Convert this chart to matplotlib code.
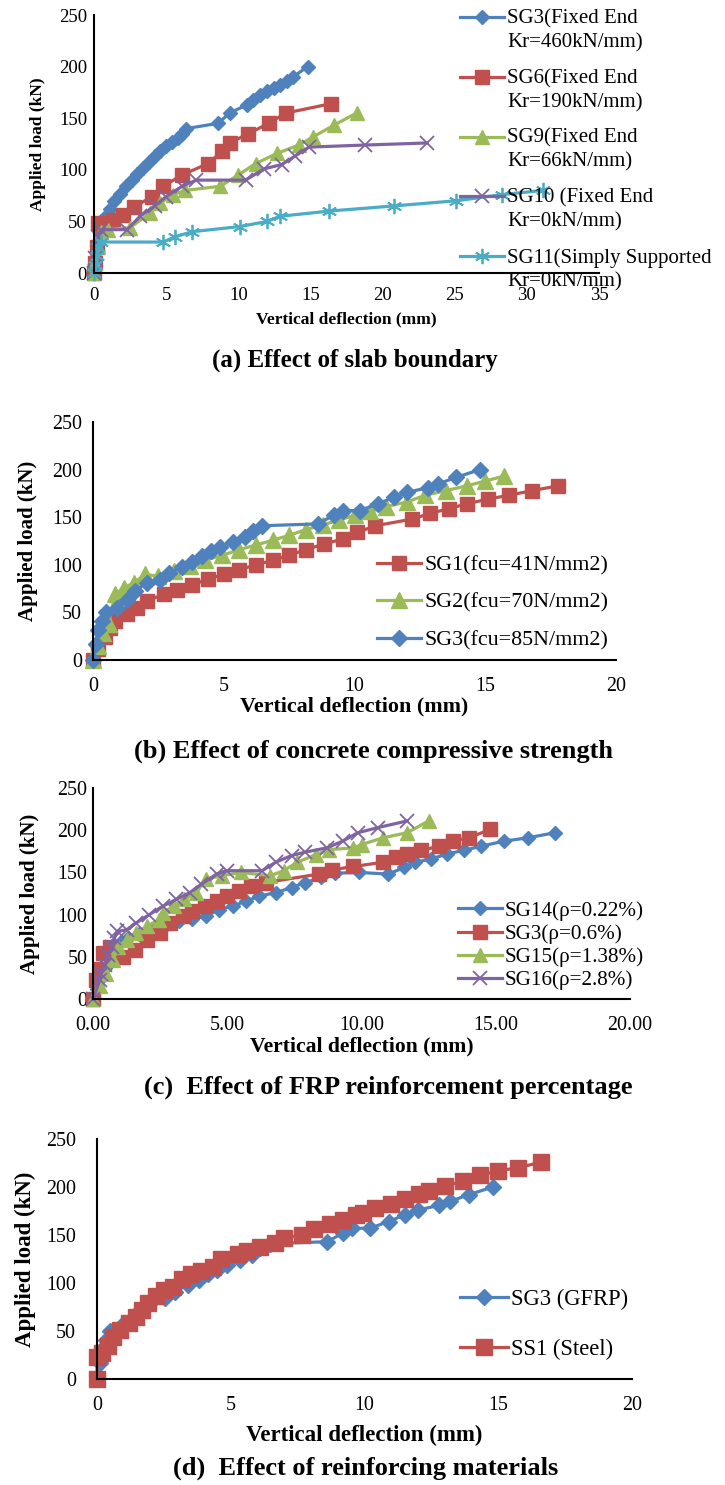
import numpy as np
import matplotlib
matplotlib.use('Agg')
import matplotlib.pyplot as plt
from matplotlib.legend_handler import HandlerLine2D
from matplotlib.lines import Line2D

plt.rcParams['font.family'] = ['Liberation Serif', 'DejaVu Serif']

BLUE = '#4F81BD'
RED = '#C0504D'
GREEN = '#9BBB59'
PURPLE = '#8064A2'
CYAN = '#4BACC6'
STAR = (6, 2, 0)

# (a) effect of slab boundary
sg3_a_x = [0, 0.1, 0.25, 0.4, 0.5, 0.8, 1.1, 1.4, 1.8, 2.2, 2.6, 3.0, 3.4, 3.8, 4.2, 4.6, 5.0, 5.4, 5.8, 6.1,
           6.4, 8.6, 9.4, 10.6, 11.0, 11.5, 12.0, 12.5, 12.9, 13.4, 13.8, 14.8]
sg3_a_y = [0, 15, 30, 42, 50, 55, 62, 70, 77, 84, 90, 96, 102, 108, 113, 118, 123, 127, 131, 135,
           140, 145, 155, 163, 168, 172, 176, 179, 182, 186, 190, 200]
sg6_a_x = [0, 0.1, 0.2, 0.3, 1.3, 2.0, 2.8, 4.0, 4.8, 6.1, 7.9, 8.9, 9.4, 10.7, 12.1, 13.3, 16.4]
sg6_a_y = [0, 10, 25, 48, 51, 56, 64, 74, 84, 95, 106, 118, 126, 135, 145, 155, 164]
sg9_a_x = [0, 0.1, 0.3, 0.5, 1.0, 2.5, 3.9, 4.6, 5.5, 6.3, 8.75, 10.0, 11.2, 12.7, 14.2, 15.2, 16.6, 18.2]
sg9_a_y = [0, 10, 25, 40, 42, 44, 58, 68, 76, 80, 84, 95, 106, 116, 124, 132, 143, 155]
sg10_a_x = [0, 0.1, 0.3, 0.5, 2.3, 3.2, 4.2, 5.0, 6.1, 7.1, 10.5, 11.8, 13.0, 13.9, 14.9, 18.8, 23.1]
sg10_a_y = [0, 15, 35, 42, 42, 55, 65, 74, 84, 90, 90, 101, 105, 113, 122, 124, 126]
sg11_a_x = [0, 0.1, 0.2, 0.3, 0.5, 4.8, 5.6, 6.8, 10.1, 12.0, 12.9, 16.3, 20.8, 25.1, 28.3, 31.1]
sg11_a_y = [0, 8, 16, 25, 30, 30, 35, 40, 45, 50, 55, 60, 65, 70, 76, 80]
labels_a = ['SG3(Fixed End\nKr=460kN/mm)', 'SG6(Fixed End\nKr=190kN/mm)', 'SG9(Fixed End\nKr=66kN/mm)',
            'SG10 (Fixed End\nKr=0kN/mm)', 'SG11(Simply Supported\nKr=0kN/mm)']

# (b) effect of concrete compressive strength
sg1_b_x = [0, 0.2, 0.45, 0.65, 0.85, 1.3, 1.7, 2.05, 2.7, 3.2, 3.8, 4.4, 5.0, 5.6, 6.25, 6.9, 7.5, 8.15,
           8.85, 9.55, 10.1, 10.8, 12.2, 12.9, 13.6, 14.3, 15.1, 15.9, 16.8, 17.8]
sg1_b_y = [0, 12, 24, 34, 41, 48, 55, 62, 69, 74, 79, 85, 90, 95, 100, 105, 110, 116,
           122, 127, 134, 141, 148, 154, 159, 164, 169, 173, 178, 183]
sg2_b_x = [0, 0.2, 0.4, 0.6, 0.84, 1.2, 1.55, 2.0, 2.5, 3.1, 3.7, 4.3, 4.95, 5.6, 6.25, 6.9, 7.5, 8.15,
           8.8, 9.4, 10.0, 10.6, 11.2, 12.0, 12.7, 13.5, 14.3, 15.0, 15.7]
sg2_b_y = [0, 15, 28, 38, 69, 76, 81, 90, 88, 93, 99, 105, 110, 116, 121, 126, 131, 137,
           142, 147, 152, 156, 161, 166, 173, 178, 183, 188, 193]
sg3_b_x = [0, 0.1, 0.2, 0.35, 0.5, 0.9, 1.3, 1.6, 2.05, 2.55, 2.9, 3.4, 3.8, 4.15, 4.5, 4.85, 5.35, 5.8,
           6.1, 6.45, 8.6, 9.2, 9.55, 10.2, 10.9, 11.5, 12.0, 12.8, 13.2, 13.9, 14.8]
sg3_b_y = [0, 17, 31, 41, 50, 55, 63, 72, 81, 84, 91, 98, 103, 109, 114, 119, 124, 129,
           136, 141, 143, 152, 157, 157, 164, 171, 176, 181, 185, 192, 200]
labels_b = ['SG1(fcu=41N/mm2)', 'SG2(fcu=70N/mm2)', 'SG3(fcu=85N/mm2)']

# (c) effect of FRP reinforcement percentage
sg14_c_x = [0, 0.15, 0.3, 0.45, 0.6, 0.8, 1.0, 1.3, 1.7, 2.2, 2.7, 3.2, 3.7, 4.2, 4.7, 5.2, 5.7, 6.2,
            6.8, 7.4, 7.9, 8.5, 9.0, 9.9, 11.0, 11.6, 12.0, 12.6, 13.2, 13.8, 14.45, 15.3, 16.2, 17.2]
sg14_c_y = [0, 12, 25, 37, 48, 58, 66, 72, 77, 82, 87, 92, 95, 98, 106, 110, 116, 122,
            126, 132, 138, 144, 149, 150, 148, 156, 162, 166, 172, 176, 181, 187, 191, 197]
sg3_c_x = [0, 0.1, 0.26, 0.38, 0.63, 1.1, 1.55, 2.0, 2.5, 2.86, 3.35, 3.7, 4.16, 4.6, 5.0, 5.45, 5.9,
           6.45, 8.4, 8.9, 9.7, 10.8, 11.3, 11.7, 12.2, 12.9, 13.4, 14.0, 14.8]
sg3_c_y = [0, 23, 35, 54, 62, 50, 58, 70, 78, 90, 98, 104, 110, 116, 122, 128, 134,
           138, 148, 153, 157, 162, 168, 172, 176, 181, 187, 191, 201]
sg15_c_x = [0, 0.26, 0.5, 0.75, 0.94, 1.25, 1.6, 2.0, 2.45, 2.6, 3.0, 3.4, 3.85, 4.2, 4.8, 5.5, 6.6, 7.1,
            7.6, 8.3, 8.8, 9.7, 10.0, 10.8, 11.7, 12.5]
sg15_c_y = [0, 15, 30, 46, 62, 70, 78, 86, 94, 102, 110, 118, 126, 142, 146, 150, 146, 152,
            162, 171, 177, 179, 183, 191, 197, 211]
sg16_c_x = [0, 0.26, 0.3, 0.45, 0.55, 0.7, 0.8, 0.9, 1.25, 1.6, 2.1, 2.6, 3.1, 3.6, 4.04, 4.6, 5.0, 6.3,
            6.8, 7.4, 7.9, 8.7, 9.3, 9.86, 10.6, 11.7]
sg16_c_y = [0, 23, 30, 40, 52, 62, 72, 80, 82, 90, 100, 110, 118, 126, 136, 148, 152, 152,
            162, 170, 174, 179, 187, 197, 203, 211]
labels_c = ['SG14(ρ=0.22%)', 'SG3(ρ=0.6%)', 'SG15(ρ=1.38%)', 'SG16(ρ=2.8%)']

# (d) effect of reinforcing materials (SG3 is the same specimen as in (b))
ss1_d_x = [0, 0, 0.2, 0.4, 0.6, 0.86, 1.2, 1.45, 1.67, 1.9, 2.2, 2.5, 2.85, 3.16, 3.5, 3.9, 4.34, 4.65,
           5.27, 5.6, 6.1, 6.65, 7.0, 7.65, 8.1, 8.7, 9.2, 9.7, 9.94, 10.4, 11.0, 11.5, 12.05, 12.4,
           13.0, 13.7, 14.3, 15.0, 15.75, 16.6]
ss1_d_y = [0, 23, 27, 34, 44, 51, 58, 65, 72, 79, 86, 93, 96, 104, 109, 112, 117, 125,
           130, 133, 137, 142, 147, 150, 156, 161, 166, 171, 173, 178, 182, 187, 193, 196,
           201, 206, 212, 217, 220, 226]
labels_d = ['SG3 (GFRP)', 'SS1 (Steel)']


class FirstLineHandler(HandlerLine2D):
    # put the legend handle next to the first line of a two-line label
    def __init__(self, shift, **kw):
        super().__init__(**kw)
        self.shift = shift

    def create_artists(self, legend, orig_handle, xdescent, ydescent, width, height, fontsize, trans):
        arts = super().create_artists(legend, orig_handle, xdescent, ydescent, width, height, fontsize, trans)
        for a in arts:
            a.set_ydata(np.asarray(a.get_ydata(), dtype=float) + self.shift)
        return arts


fig = plt.figure(figsize=(7.25, 14.85), dpi=100)
W, H = 725.0, 1485.0


def px_axes(l, t, r, b):
    return fig.add_axes([l / W, 1 - b / H, (r - l) / W, (b - t) / H])


def style(ax, xmax, xstep, fs, xpad, ypad, fmt=None):
    ax.set_xlim(0, xmax)
    ax.set_ylim(0, 250)
    ax.set_xticks(np.arange(0, xmax + 0.01, xstep))
    ax.set_yticks(np.arange(0, 251, 50))
    if fmt:
        ax.xaxis.set_major_formatter(matplotlib.ticker.FormatStrFormatter(fmt))
    for s in ['top', 'right']:
        ax.spines[s].set_visible(False)
    for s in ['left', 'bottom']:
        ax.spines[s].set_linewidth(1.5)
    ax.tick_params(length=0, labelsize=fs)
    ax.tick_params(axis='x', pad=xpad)
    ax.tick_params(axis='y', pad=ypad)


def series(ax, x, y, color, marker, ms, label, mew=1.0, lw=2.3):
    ax.plot(x, y, color=color, lw=lw, marker=marker, ms=ms, mfc=color, mec=color, mew=mew,
            label=label, clip_on=False)


def labels(ax, fs, xly, ylx):
    ax.set_xlabel('Vertical deflection (mm)', fontsize=fs[0], fontweight='bold')
    ax.set_ylabel('Applied load (kN)', fontsize=fs[1], fontweight='bold')
    ax.xaxis.set_label_coords(0.5, xly)
    ax.yaxis.set_label_coords(ylx, 0.5)


# ---- (a)
ax = px_axes(94, 15, 599, 273)
style(ax, 35, 5, 13.5, 10, 5)
series(ax, sg3_a_x, sg3_a_y, BLUE, 'D', 7, labels_a[0])
series(ax, sg6_a_x, sg6_a_y, RED, 's', 10, labels_a[1])
series(ax, sg9_a_x, sg9_a_y, GREEN, '^', 10.5, labels_a[2])
series(ax, sg10_a_x, sg10_a_y, PURPLE, 'x', 10, labels_a[3], mew=1.3)
series(ax, sg11_a_x, sg11_a_y, CYAN, STAR, 11, labels_a[4], mew=1.3)
labels(ax, (12.5, 12.5), -0.15, -0.095)
leg = ax.legend(loc='upper left', bbox_to_anchor=(460 / W, 1 - 9 / H), bbox_transform=fig.transFigure,
                frameon=False, fontsize=15, borderpad=0, borderaxespad=0, handlelength=2.1,
                handletextpad=0.15, labelspacing=0.78,
                handler_map={Line2D: FirstLineHandler(9.5)})
for t in leg.get_texts():
    t.set_linespacing(1.35)
fig.text(355 / W, 1 - 360 / H, '(a) Effect of slab boundary', ha='center', va='center',
         fontsize=18, fontweight='bold')

# ---- (b)
ax = px_axes(93, 422, 616, 660)
style(ax, 20, 5, 14.4, 12, 8)
series(ax, sg1_b_x, sg1_b_y, RED, 's', 10.5, labels_b[0])
series(ax, sg2_b_x, sg2_b_y, GREEN, '^', 11.5, labels_b[1])
series(ax, sg3_b_x, sg3_b_y, BLUE, 'D', 8, labels_b[2])
labels(ax, (15.8, 15), -0.155, -0.105)
ax.legend(loc='upper left', bbox_to_anchor=(377 / W, 1 - 555 / H), bbox_transform=fig.transFigure,
          frameon=False, fontsize=15.8, borderpad=0, borderaxespad=0, handlelength=2.0,
          handletextpad=0.15, labelspacing=0.78)
fig.text(373 / W, 1 - 751 / H, '(b) Effect of concrete compressive strength', ha='center', va='center',
         fontsize=19, fontweight='bold')

# ---- (c)
ax = px_axes(93, 788, 630, 999)
style(ax, 20, 5, 14.4, 12, 4, fmt='%.2f')
series(ax, sg14_c_x, sg14_c_y, BLUE, 'D', 7.5, labels_c[0])
series(ax, sg3_c_x, sg3_c_y, RED, 's', 10, labels_c[1])
series(ax, sg15_c_x, sg15_c_y, GREEN, '^', 10.5, labels_c[2])
series(ax, sg16_c_x, sg16_c_y, PURPLE, 'x', 10, labels_c[3], mew=1.3)
labels(ax, (15.6, 15), -0.18, -0.099)
ax.legend(loc='upper left', bbox_to_anchor=(458 / W, 1 - 901 / H), bbox_transform=fig.transFigure,
          frameon=False, fontsize=15.2, borderpad=0, borderaxespad=0, handlelength=2.1,
          handletextpad=0.1, labelspacing=0.16)
fig.text(388 / W, 1 - 1087 / H, '(c)  Effect of FRP reinforcement percentage', ha='center', va='center',
         fontsize=19, fontweight='bold')

# ---- (d)
ax = px_axes(97, 1139, 632, 1379)
style(ax, 20, 5, 14.4, 12, 15)
series(ax, sg3_b_x, sg3_b_y, BLUE, 'D', 8, labels_d[0])
series(ax, ss1_d_x, ss1_d_y, RED, 's', 12, labels_d[1])
labels(ax, (16.5, 16.5), -0.192, -0.114)
ax.legend(loc='upper left', bbox_to_anchor=(460 / W, 1 - 1289 / H), bbox_transform=fig.transFigure,
          frameon=False, fontsize=16.3, borderpad=0, borderaxespad=0, handlelength=2.1,
          handletextpad=0.15, labelspacing=1.27)
fig.text(366 / W, 1 - 1468 / H, '(d)  Effect of reinforcing materials', ha='center', va='center',
         fontsize=19, fontweight='bold')

fig.savefig('out.png', dpi=100)
